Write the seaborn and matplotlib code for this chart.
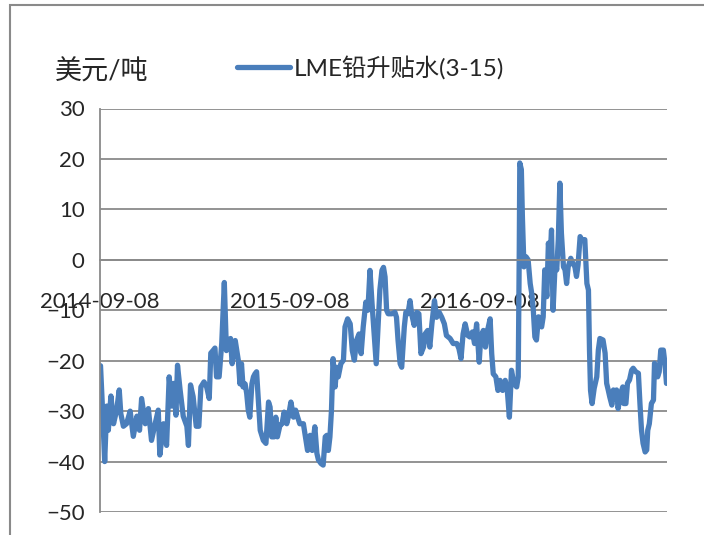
import pandas as pd
import matplotlib
matplotlib.use('Agg')
import matplotlib.pyplot as plt
import matplotlib.dates as mdates
from matplotlib.patches import Rectangle
import seaborn as sns

# LME lead spread (3-15), USD/t
start_date = '2014-09-08'
day_offsets = [
    1, 5, 9, 13, 16, 21, 26, 32, 37, 40, 45, 51, 58, 64, 71, 76, 80, 87, 93, 99,
    106, 112, 115, 122, 128, 133, 138, 142, 146, 149, 154, 160, 167, 170, 174, 179, 185, 190, 194, 200,
    205, 210, 213, 218, 221, 224, 229, 234, 239, 243, 247, 251, 254, 258, 260, 266, 269, 272, 275, 279,
    282, 285, 288, 292, 295, 298, 301, 304, 308, 314, 319, 324, 327, 330, 335, 338, 341, 346, 350, 354,
    359, 362, 367, 372, 376, 380, 384, 391, 395, 399, 404, 408, 413, 417, 420, 425, 429, 433, 436, 439,
    442, 445, 448, 452, 455, 458, 463, 468, 471, 476, 481, 485, 489, 493, 498, 502, 506, 511, 515, 519,
    523, 527, 531, 535, 538, 542, 545, 548, 551, 554, 561, 567, 570, 573, 577, 580, 585, 588, 592, 596,
    599, 604, 609, 613, 617, 622, 625, 630, 634, 638, 643, 647, 652, 657, 662, 666, 673, 679, 686, 690,
    694, 698, 702, 707, 711, 716, 720, 724, 729, 732, 737, 741, 745, 750, 753, 756, 761, 765, 769, 774,
    779, 783, 787, 791, 796, 801, 804, 806, 807, 810, 812, 815, 819, 823, 827, 830, 833, 836, 839, 843,
    846, 849, 852, 855, 859, 862, 865, 868, 871, 875, 878, 881, 884, 887, 891, 894, 897, 900, 905, 909,
    913, 916, 919, 923, 926, 929, 932, 936, 939, 941, 943, 946, 950, 955, 958, 961, 967, 971, 974, 977,
    980, 984, 987, 990, 993, 996, 1001, 1005, 1007, 1011, 1014, 1018, 1022, 1025, 1030, 1035, 1038, 1041, 1044, 1048,
    1051, 1053, 1056, 1060, 1064, 1066, 1069, 1072, 1075, 1078, 1083, 1086, 1089,
]
spread = [
    -21, -30, -40, -29, -33.8, -27, -32.5, -29.8, -25.8, -30.5, -33, -32.5, -30, -35, -31, -33.8, -27.5, -32.5, -29.5, -35.8,
    -32.5, -29.8, -38.7, -32.5, -36.8, -23.2, -29, -24.5, -30.8, -20.9, -25.8, -31, -33, -36.8, -24.8, -27.1, -33, -33, -25.2, -24.2,
    -25.2, -27.5, -18.5, -17.9, -17.5, -23.2, -23.2, -16.6, -4.5, -18, -16, -15.6, -20.6, -17, -16, -20, -24.6, -20.6, -25.2, -24.6,
    -26.5, -29.8, -31.2, -24.6, -23.2, -22.6, -22.2, -27.2, -33.8, -35.8, -36.4, -28.2, -29.2, -35.1, -35.1, -31.2, -35.1, -32.8, -32.5, -30.2,
    -32.5, -31.2, -28.2, -31.2, -29.8, -31.2, -32.5, -32.5, -35.1, -37.8, -34.8, -37.8, -33.1, -38.4, -39.7, -40.4, -40.7, -35.1, -34.8, -37.8,
    -35.1, -29.8, -19.6, -25.2, -21.3, -23.2, -20.6, -19.9, -13.3, -11.7, -12.7, -18, -19.9, -16, -14.7, -18.6, -13.3, -8.4, -10, -2.1,
    -8.7, -14.7, -20.6, -12, -6, -2.1, -1.5, -3.4, -10, -10.7, -10.7, -10.4, -11.4, -16, -20.6, -21.3, -13.3, -10.4, -10.7, -8.1,
    -10.7, -13, -10.4, -10.7, -18.6, -17.3, -14.7, -14, -17.3, -12.7, -8.1, -11.4, -10.4, -11.4, -12.7, -15, -15.6, -16.6, -16.6, -17.6,
    -19.6, -14.7, -12.7, -15, -15.3, -14.3, -16.6, -12.7, -20.3, -15.3, -14, -17.3, -14, -11.7, -18.6, -22.6, -23.2, -25.9, -23.9, -25.9,
    -23.9, -25.9, -31.2, -21.9, -24.6, -25.2, -23.2, 2, 19.2, 17.9, 8.6, -1.4, 0.6, 0, -4.7, -6.7, -10, -15.3, -15.9, -11.3,
    -12.6, -13.3, -11.3, -2, -7.3, 3.3, 0, 5.9, -10, -0.7, -2, 4, 15.2, 5.3, -1.4, -2, -4.7, -1.4, 0.3, -0.7,
    -1.4, -3.3, -1, 4.6, 4, 4, 4, -4.7, -6, -17.9, -25.9, -28.5, -25.5, -23.2, -17.9, -15.6, -15.9, -18.5, -24.5, -25.8,
    -27.2, -28.8, -25.8, -27.2, -25.8, -29.5, -26.5, -25.2, -28.5, -28.5, -24.5, -23.8, -21.9, -21.5, -22.2, -22.5, -28.5, -33.8, -36.4, -38.1,
    -37.7, -33.8, -32.5, -28.5, -27.8, -20.5, -21.9, -23.2, -22.2, -17.9, -17.9, -20.5, -24.5,
]
tick_dates = ['2014-09-08', '2015-09-08', '2016-09-08']
y_ticks = [-50, -40, -30, -20, -10, 0, 10, 20, 30]
series_name = 'LME铅升贴水(3-15)'
unit_label = '美元/吨'

sns.set_style('white')
plt.rcParams['font.family'] = ['Lato', 'Noto Sans CJK SC', 'DejaVu Sans']

grey = '#8a8a8a'
blue = '#4a7ebb'

df = pd.DataFrame({
    'date': pd.Timestamp(start_date) + pd.to_timedelta(day_offsets, unit='D'),
    'spread': spread,
})

fig = plt.figure(figsize=(7.04, 5.35), dpi=100)
ax = fig.add_axes([100 / 704, 1 - 512 / 535, 567 / 704, 403.5 / 535])

sns.lineplot(data=df, x='date', y='spread', ax=ax, color=blue, linewidth=3.8,
             sort=False, estimator=None, label=series_name, legend=False)

# axes limits and gridlines
start = pd.Timestamp(start_date)
ax.set_xlim(start, start + pd.Timedelta(days=1090))
ax.set_ylim(-50, 30)
ax.set_yticks(y_ticks)
ax.yaxis.grid(True, color=grey, linewidth=1.3)
ax.xaxis.grid(False)
ax.set_axisbelow(True)

for side in ['top', 'right']:
    ax.spines[side].set_visible(False)
ax.spines['left'].set_color(grey)
ax.spines['left'].set_linewidth(1.3)
ax.spines['bottom'].set_position(('data', 0))
ax.spines['bottom'].set_color(grey)
ax.spines['bottom'].set_linewidth(1.3)

ax.set_xticks(pd.to_datetime(tick_dates))
ax.xaxis.set_major_formatter(mdates.DateFormatter('%Y-%m-%d'))
ax.tick_params(axis='x', direction='out', length=5, width=1.3, color=grey,
               labelsize=16, pad=18)
ax.tick_params(axis='y', direction='out', length=6, width=1.3, color=grey,
               labelsize=16, pad=5)
ax.set_xlabel('')
ax.set_ylabel('')

# unit label and legend
fig.text(55 / 704, 1 - 72 / 535, unit_label, fontsize=19.5, va='center', ha='left')
handles, labels = ax.get_legend_handles_labels()
fig.legend(handles, labels, loc='center left', bbox_to_anchor=(237 / 704, 1 - 68 / 535),
           frameon=False, fontsize=17.5, handlelength=2.2, handletextpad=0.12,
           borderpad=0, borderaxespad=0)

# outer chart frame (partly cut off in the original)
fig.patches.append(Rectangle((10 / 704, -0.1), 1.2, 1.1 - 5 / 535,
                             transform=fig.transFigure, fill=False,
                             edgecolor=grey, linewidth=1.5))

fig.savefig('out.png', dpi=100)
